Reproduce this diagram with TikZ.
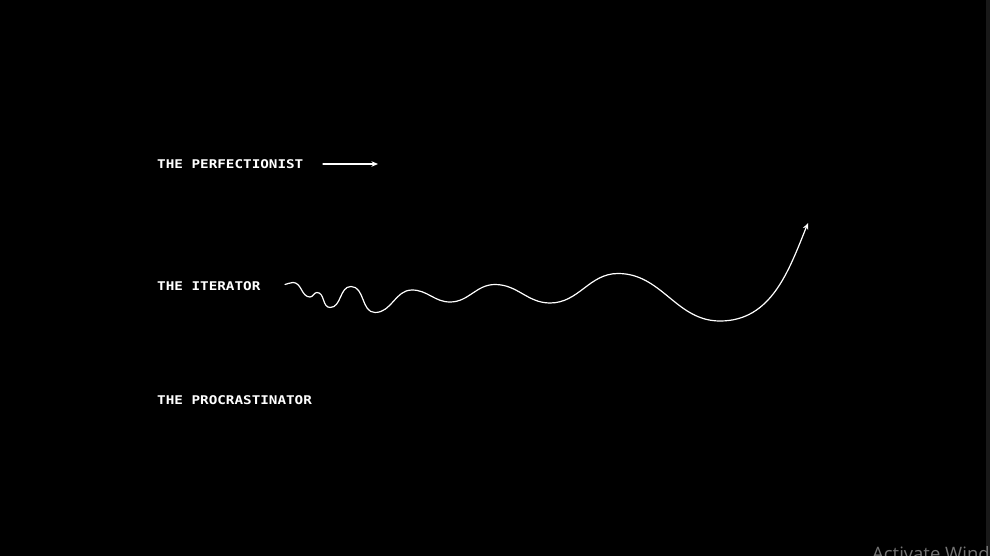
\documentclass[tikz,border=0pt]{standalone}
\usepackage{fontspec}
\usetikzlibrary{arrows.meta}
\newfontfamily\pixfont[FakeStretch=1.19]{DejaVu Sans Mono Bold}
\newfontfamily\wmfont{Open Sans}
\tikzset{
  lbl/.style={anchor=west, inner sep=0pt, text=white, font=\pixfont\fontsize{12}{12}\selectfont},
  wline/.style={draw=white, line width=1.2pt, line cap=round},
  tip/.style={-{Stealth[length=6.5pt,width=5.5pt]}},
  wave/.style={out=0, in=180}
}
\begin{document}
\begin{tikzpicture}[x=1pt,y=-1pt]
\useasboundingbox (0,0) rectangle (990,556);
\fill[black] (0,0) rectangle (990,556);
\fill[black!90!white] (986,0) rectangle (990,556);
\begin{scope}
\clip (0,0) rectangle (990,556);
\node[anchor=base west, inner sep=0pt, text=black!55!white, font=\wmfont\fontsize{18.5}{18.5}\selectfont] (wm) at (872,560) {Activate Windows};
\end{scope}

\node[lbl] (perf) at (157,164) {THE PERFECTIONIST};
\node[lbl] (iter) at (157,286) {THE ITERATOR};
\node[lbl] (proc) at (157,400) {THE PROCRASTINATOR};

\coordinate (pa) at (323,164);
\coordinate (pb) at (378,164);
\draw[wline, tip] (pa) -- (pb);

\coordinate (ia) at (285,284.5);
\coordinate (ib) at (808,223);
\draw[wline, tip] (ia) to[out=10,in=180] (293,282.5)
  to[wave] (310,297) to[wave] (317,292.5) to[wave] (330,307.5)
  to[wave] (351,286.5) to[wave] (375,312.5) to[wave] (412,290)
  to[wave] (450,302) to[wave] (495,284.5) to[wave] (550,303)
  to[wave] (618,273.5) to[wave] (720,321)
  to[out=0,in=-112] (ib);
\end{tikzpicture}
\end{document}
